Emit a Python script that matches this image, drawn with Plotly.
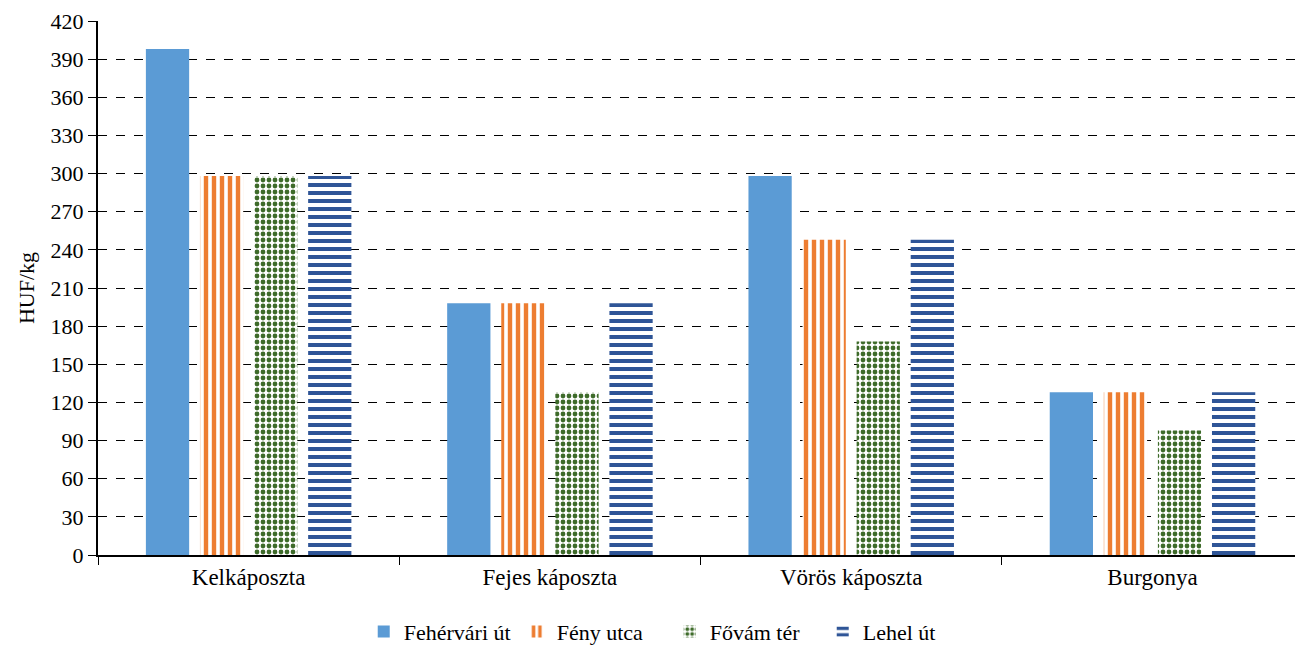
import plotly.graph_objects as go

categories = ["Kelkáposzta", "Fejes káposzta", "Vörös káposzta", "Burgonya"]
series_names = ["Fehérvári út", "Fény utca", "Fővám tér", "Lehel út"]
fehervari = [398, 198, 298, 128]
feny = [298, 198, 248, 128]
fovam = [298, 128, 168, 98]
lehel = [298, 198, 248, 128]
y_ticks = list(range(0, 421, 30))

FONT = "Liberation Serif"

fig = go.Figure()
fig.add_trace(go.Bar(name=series_names[0], x=categories, y=fehervari,
                     marker=dict(color="#5B9BD5", line=dict(width=0))))
fig.add_trace(go.Bar(name=series_names[1], x=categories, y=feny,
                     marker=dict(color="white", line=dict(width=0),
                                 pattern=dict(shape="|", fgcolor="#ED7D31", bgcolor="white",
                                              size=8, solidity=0.55, fillmode="replace"))))
fig.add_trace(go.Bar(name=series_names[2], x=categories, y=fovam,
                     marker=dict(color="white", line=dict(width=0),
                                 pattern=dict(shape=".", fgcolor="#3E6B2A", bgcolor="white",
                                              size=6, solidity=0.5, fillmode="replace"))))
fig.add_trace(go.Bar(name=series_names[3], x=categories, y=lehel,
                     marker=dict(color="white", line=dict(width=0),
                                 pattern=dict(shape="-", fgcolor="#2F5597", bgcolor="white",
                                              size=8, solidity=0.5, fillmode="replace"))))

fig.update_layout(
    width=1295, height=646, autosize=False,
    margin=dict(l=98, r=0, t=21, b=91),
    plot_bgcolor="white", paper_bgcolor="white",
    barmode="group", bargap=0.282, bargroupgap=0.2,
    font=dict(family=FONT, size=22, color="black"),
    showlegend=True,
    legend=dict(orientation="h", x=0.222, xanchor="left",
                yref="container", y=0.022, yanchor="middle",
                entrywidth=108, entrywidthmode="pixels",
                font=dict(family=FONT, size=22), itemwidth=30, traceorder="normal"),
    xaxis=dict(type="category", range=[-0.5, 3.473], showline=True, linecolor="black", linewidth=2,
               ticks="outside", tickson="boundaries", ticklen=8, tickcolor="black", tickwidth=1,
               showgrid=False, tickfont=dict(family=FONT, size=23)),
    yaxis=dict(range=[0, 420], tickvals=y_ticks, showline=True, linecolor="black", linewidth=2,
               ticks="outside", ticklen=8, tickcolor="black", tickwidth=1,
               showgrid=True, gridcolor="black", gridwidth=1, griddash="dash",
               zeroline=False, tickfont=dict(family=FONT, size=22),
               title=dict(text="HUF/kg", font=dict(family=FONT, size=22), standoff=10)),
)

fig.write_html("out.html", config={"displayModeBar": False},
               post_script="document.body.style.margin='0';")
